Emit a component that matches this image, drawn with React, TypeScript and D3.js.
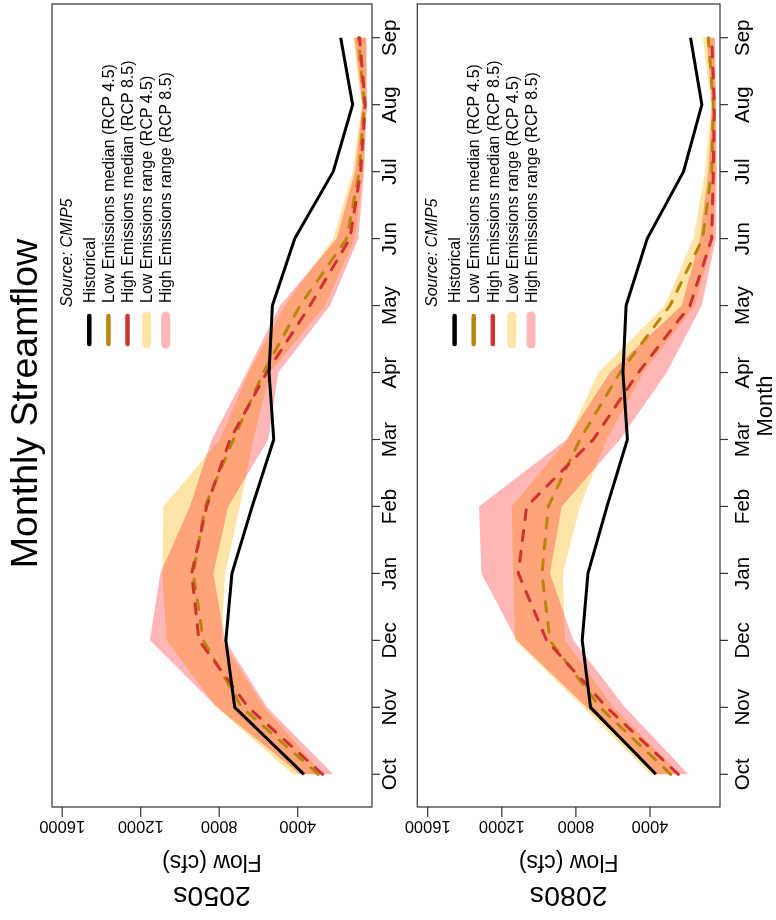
import React from 'react';
import * as d3 from 'd3';

const months = ['Oct', 'Nov', 'Dec', 'Jan', 'Feb', 'Mar', 'Apr', 'May', 'Jun', 'Jul', 'Aug', 'Sep'];
const flowTicks = [4000, 8000, 12000, 16000];

const historical = [3680, 7210, 7660, 7350, 6320, 5220, 5460, 5290, 4150, 2190, 1200, 1810];

const low2050Median = [2950, 6850, 8810, 9320, 8720, 7280, 5750, 3880, 1500, 860, 610, 910];
const high2050Median = [2730, 6520, 9030, 9400, 8640, 7450, 5580, 3370, 1340, 790, 560, 850];
const low2050Min = [2700, 5700, 7870, 7700, 6940, 6260, 5410, 2610, 1080, 660, 480, 520];
const low2050Max = [4250, 8150, 10680, 10900, 10850, 7960, 6500, 4650, 2190, 1200, 740, 1170];
const high2050Min = [2190, 5560, 7700, 8300, 7540, 5500, 4990, 2350, 910, 620, 480, 500];
const high2050Max = [3880, 8100, 11530, 11000, 9490, 8380, 6600, 4900, 2010, 1080, 700, 1100];

const low2080Median = [2880, 6700, 9400, 9830, 9490, 7780, 5620, 2920, 1160, 670, 580, 850];
const high2080Median = [2470, 6340, 9580, 11110, 10660, 7060, 4630, 1840, 670, 580, 530, 670];
const low2080Min = [2380, 5980, 8590, 8700, 7780, 6340, 4360, 1570, 580, 450, 450, 550];
const low2080Max = [4000, 7600, 11290, 11380, 11470, 8450, 6790, 3190, 1660, 1030, 700, 1150];
const high2080Min = [1930, 5350, 8140, 9400, 8770, 5620, 3100, 1210, 440, 400, 430, 490];
const high2080Max = [3640, 7420, 11200, 13100, 13230, 8500, 6160, 2290, 1300, 850, 650, 950];

const legendLabels = [
  'Historical',
  'Low Emissions median (RCP 4.5)',
  'High Emissions median (RCP 8.5)',
  'Low Emissions range (RCP 4.5)',
  'High Emissions range (RCP 8.5)',
];

const FONT = "'Liberation Sans', Arial, Helvetica, sans-serif";
const C_HIST = '#000000';
const C_LOWMED = '#B8860B';
const C_HIGHMED = '#CD3333';
const C_LOWRANGE = '#FFE4A8';
const C_HIGHRANGE = '#FFB6B6';

const W = 920; // original (unrotated) width
const BOX_LEFT = 113;
const BOX_RIGHT = 916;

const x = d3.scalePoint<string>().domain(months).range([145.7, 882.3]);

type PanelDef = {
  name: string;
  top: number;
  bottom: number;
  yRange: [number, number];
  labelBase: number;
  hist: number[];
  lowMed: number[];
  highMed: number[];
  lowMin: number[];
  lowMax: number[];
  highMin: number[];
  highMax: number[];
  showXLabel: boolean;
};

const panels: PanelDef[] = [
  {
    name: '2050s', top: 52, bottom: 372, yRange: [376.2, 62.2], labelBase: 395.5,
    hist: historical, lowMed: low2050Median, highMed: high2050Median,
    lowMin: low2050Min, lowMax: low2050Max, highMin: high2050Min, highMax: high2050Max,
    showXLabel: false,
  },
  {
    name: '2080s', top: 417.3, bottom: 720, yRange: [724.1, 427.7], labelBase: 748.5,
    hist: historical, lowMed: low2080Median, highMed: high2080Median,
    lowMin: low2080Min, lowMax: low2080Max, highMin: high2080Min, highMax: high2080Max,
    showXLabel: true,
  },
];

function Panel({ p }: { p: PanelDef }) {
  const y = d3.scaleLinear().domain([0, 16000]).range(p.yRange);
  const band = (mins: number[], maxs: number[]) =>
    d3.area<number>()
      .x((_, i) => x(months[i]) as number)
      .y0((_, i) => y(mins[i]))
      .y1((_, i) => y(maxs[i]))(mins) as string;
  const line = (vals: number[]) =>
    d3.line<number>()
      .x((_, i) => x(months[i]) as number)
      .y((d) => y(d))(vals) as string;
  const mid = (p.top + p.bottom) / 2;
  const keyY = (i: number) => p.top + 37.3 + 19.1 * i;
  const keyStyles = [
    { c: C_HIST, w: 4.5 },
    { c: C_LOWMED, w: 4.5 },
    { c: C_HIGHMED, w: 4.5 },
    { c: C_LOWRANGE, w: 9 },
    { c: C_HIGHRANGE, w: 9 },
  ];
  return (
    <g>
      <path d={band(p.lowMin, p.lowMax)} fill={C_LOWRANGE} />
      <path d={band(p.highMin, p.highMax)} fill={C_HIGHRANGE} style={{ mixBlendMode: 'multiply' }} />
      <path d={line(p.lowMed)} fill="none" stroke={C_LOWMED} strokeWidth={3} strokeDasharray="10 11" strokeLinecap="round" />
      <path d={line(p.highMed)} fill="none" stroke={C_HIGHMED} strokeWidth={3} strokeDasharray="10 11" strokeLinecap="round" />
      <path d={line(p.hist)} fill="none" stroke={C_HIST} strokeWidth={3} strokeLinejoin="round" />
      <rect x={BOX_LEFT} y={p.top} width={BOX_RIGHT - BOX_LEFT} height={p.bottom - p.top} fill="none" stroke="#333" strokeWidth={1.2} />
      {months.map((m) => (
        <g key={m}>
          <line x1={x(m)} x2={x(m)} y1={p.bottom} y2={p.bottom + 8} stroke="#333" strokeWidth={1.2} />
          <text x={x(m)} y={p.labelBase} textAnchor="middle" fontSize={20.5} fontFamily={FONT}>{m}</text>
        </g>
      ))}
      {flowTicks.map((t) => (
        <g key={t}>
          <line x1={BOX_LEFT} x2={BOX_LEFT - 10} y1={y(t)} y2={y(t)} stroke="#333" strokeWidth={1.2} />
          <text transform={`translate(99.3,${y(t)}) rotate(-90)`} textAnchor="middle" fontSize={16.5} fontFamily={FONT}>{t}</text>
        </g>
      ))}
      <text transform={`translate(65,${mid}) rotate(-90)`} textAnchor="middle" fontSize={23} fontFamily={FONT}>Flow (cfs)</text>
      <text transform={`translate(32.7,${mid}) rotate(-90)`} textAnchor="middle" fontSize={28.5} fontFamily={FONT}>{p.name}</text>
      {p.showXLabel && (
        <text x={514} y={771.5} textAnchor="middle" fontSize={22} fontFamily={FONT}>Month</text>
      )}
      <text x={613} y={p.top + 19.7} fontSize={16} fontStyle="italic" fontFamily={FONT}>Source: CMIP5</text>
      {legendLabels.map((lab, i) => (
        <g key={lab}>
          <line x1={576} x2={604} y1={keyY(i)} y2={keyY(i)} stroke={keyStyles[i].c} strokeWidth={keyStyles[i].w} strokeLinecap="round" />
          <text x={617} y={keyY(i) + 5.7} fontSize={16} fontFamily={FONT}>{lab}</text>
        </g>
      ))}
    </g>
  );
}

export default function App() {
  return (
    <svg width={776} height={920} style={{ position: 'fixed', left: 0, top: 0, background: '#fff' }}>
      <rect x={0} y={0} width={776} height={920} fill="#fff" />
      <g transform={`translate(0,${W}) rotate(-90)`}>
        <text x={516.5} y={37} textAnchor="middle" fontSize={37.5} fontFamily={FONT}>Monthly Streamflow</text>
        {panels.map((p) => (
          <Panel key={p.name} p={p} />
        ))}
      </g>
    </svg>
  );
}
